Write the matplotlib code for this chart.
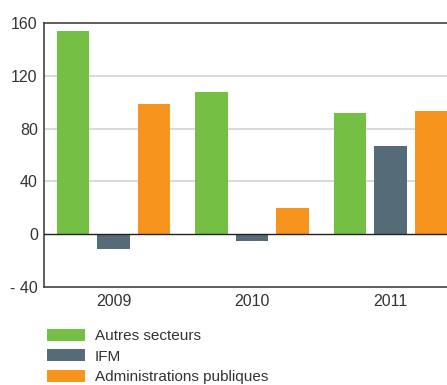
import numpy as np
import matplotlib.pyplot as plt
from matplotlib.patches import Patch

# data
years = ["2009", "2010", "2011"]
autres = [154, 108, 91.5]
ifm = [-11, -5, 66.5]
admin = [99, 20, 93]
series_names = ["Autres secteurs", "IFM", "Administrations publiques"]
colors = ["#74BF44", "#566B78", "#F7941E"]
yticks = [-40, 0, 40, 80, 120, 160]
ytick_labels = ["- 40", "0", "40", "80", "120", "160"]

plt.rcParams['font.family'] = ['Liberation Sans', 'DejaVu Sans']
txt_color = "#333333"

fig = plt.figure(figsize=(4.47, 3.85), dpi=100)
ax = fig.add_axes([44/447, 1 - 287/385, (460 - 44)/447, (287 - 23)/385])

x = np.arange(len(years))
step = 0.292
w = 0.235
for i, vals in enumerate([autres, ifm, admin]):
    ax.bar(x + (i - 1) * step, vals, width=w, color=colors[i], zorder=3)

ax.set_xlim(-0.502, 2.502)
ax.set_ylim(-40, 160)
ax.set_yticks(yticks)
ax.set_yticklabels(ytick_labels)
ax.set_xticks(x)
ax.set_xticklabels(years)
ax.tick_params(axis='both', length=0, labelsize=11.5, colors=txt_color)
ax.tick_params(axis='y', pad=4.5)
ax.tick_params(axis='x', pad=5)

# grid lines
for g in [40, 80, 120]:
    ax.axhline(g, color="#d3d3d3", lw=1.2, zorder=1)
ax.axhline(0, color="#222222", lw=1.0, zorder=4)

for s in ['top', 'bottom', 'left']:
    ax.spines[s].set_color("#444444")
    ax.spines[s].set_linewidth(1.2)
ax.spines['right'].set_visible(False)

handles = [Patch(facecolor=c, edgecolor='none') for c in colors]
fig.legend(handles, series_names, loc='upper left',
           bbox_to_anchor=(47/447, 1 - 329/385), frameon=False,
           borderpad=0, borderaxespad=0, fontsize=11,
           handlelength=2.5, handleheight=0.8, handletextpad=0.65,
           labelspacing=0.41, labelcolor=txt_color)

plt.savefig("out.png", dpi=100)
